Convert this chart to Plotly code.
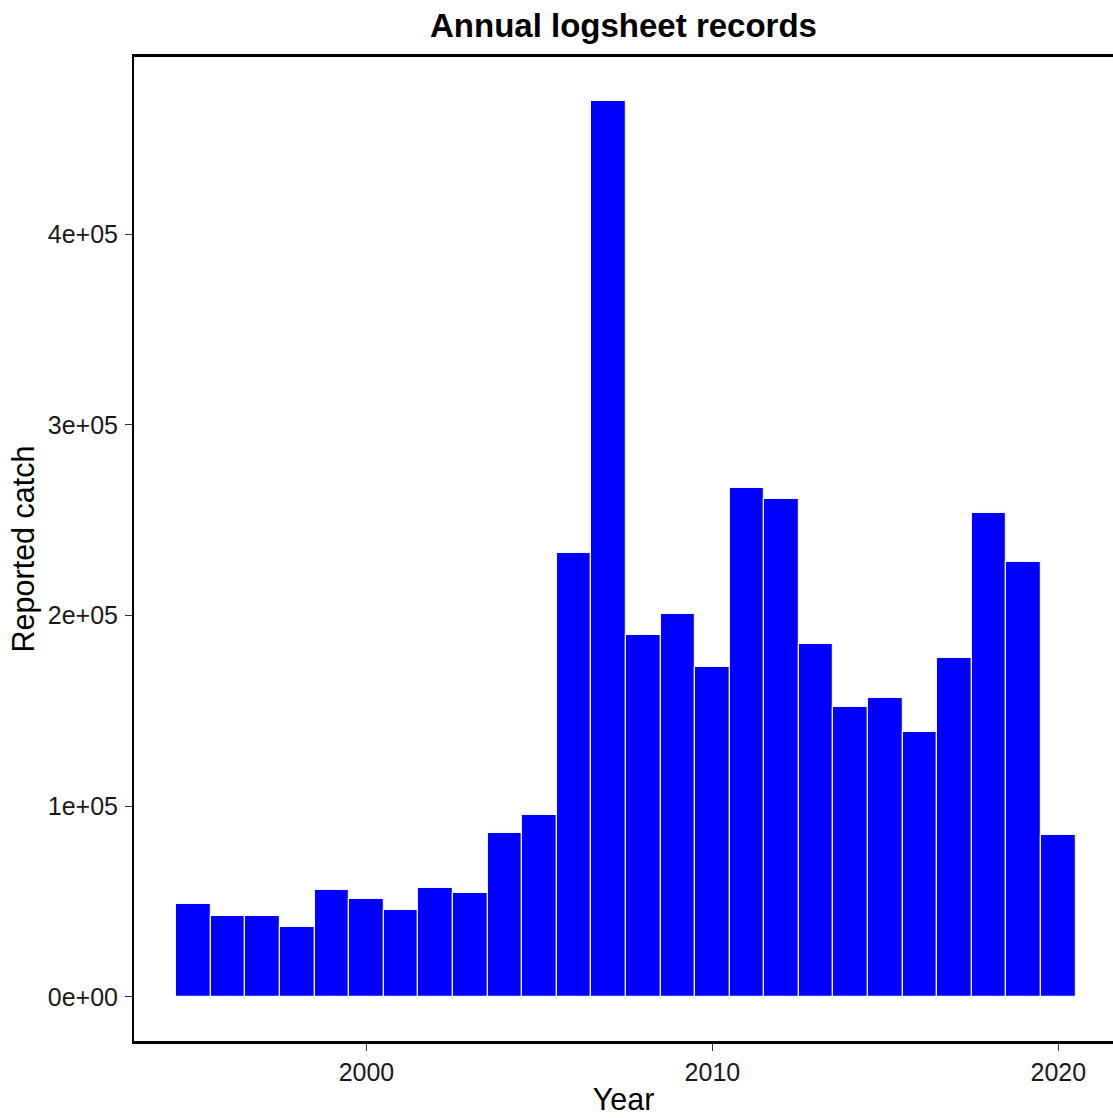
import plotly.graph_objects as go

years = list(range(1995, 2021))
catch = [49000, 42300, 42300, 36600, 56300, 51400, 45600, 57200, 54600, 86000,
         95700, 233000, 470000, 190000, 201000, 173000, 267000, 261000, 185000,
         152000, 157000, 139000, 178000, 254000, 228000, 85200]

x_ticks = [2000, 2010, 2020]
x_tick_labels = ["2000", "2010", "2020"]
y_ticks = [0, 100000, 200000, 300000, 400000]
y_tick_labels = ["0e+00", "1e+05", "2e+05", "3e+05", "4e+05"]

FONT = "Liberation Sans, Arial, sans-serif"

fig = go.Figure()
fig.add_trace(go.Bar(
    x=years, y=catch, width=1,
    marker=dict(color="#0000FF", line=dict(color="#f4f4ff", width=1.2)),
    showlegend=False,
))

fig.update_layout(
    width=1113, height=1118,
    margin=dict(l=134, r=0, t=57, b=77),
    plot_bgcolor="white", paper_bgcolor="white",
    bargap=0,
    title=dict(text="<b>Annual logsheet records</b>", x=0.5, xref="paper",
               xanchor="center", y=1 - 25 / 1118, yref="container", yanchor="middle",
               font=dict(family=FONT, size=33, color="black")),
    font=dict(family=FONT, color="black"),
)

fig.update_xaxes(
    range=[1993.28, 2021.58],
    tickvals=x_ticks, ticktext=x_tick_labels,
    ticks="outside", ticklen=7, tickwidth=1, tickcolor="#333333",
    tickfont=dict(family=FONT, size=25, color="#1a1a1a"),
    showline=True, linecolor="black", linewidth=3, mirror=True,
    showgrid=False, zeroline=False,
    title=dict(text="Year", font=dict(family=FONT, size=30.5, color="black"), standoff=4),
)
fig.update_yaxes(
    range=[-23100, 493000],
    tickvals=y_ticks, ticktext=y_tick_labels,
    ticks="outside", ticklen=7, tickwidth=1, tickcolor="#333333",
    tickfont=dict(family=FONT, size=25, color="#1a1a1a"),
    ticklabelstandoff=2,
    showline=True, linecolor="black", linewidth=2,
    showgrid=False, zeroline=False,
    title=dict(text="Reported catch", font=dict(family=FONT, size=30.5, color="black"), standoff=4),
)

fig.write_html("out.html", config={"displayModeBar": False},
               post_script="document.body.style.margin='0';")
